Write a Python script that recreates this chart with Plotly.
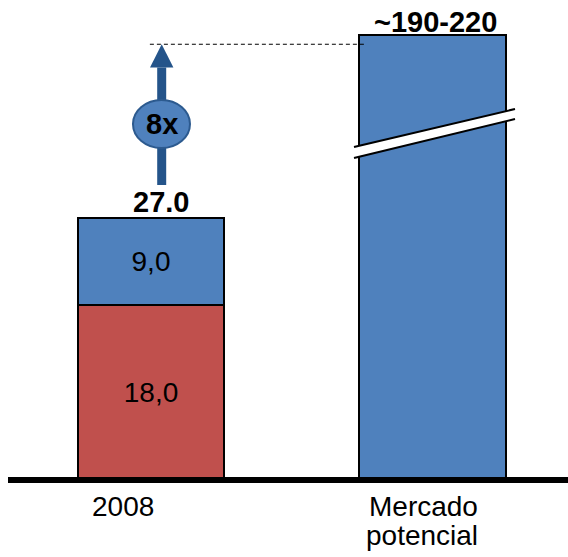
import plotly.graph_objects as go

# ---- data ----
categories = ["2008", "Mercado potencial"]
cat_label_lines = [["2008"], ["Mercado", "potencial"]]
red_segment = [18.0]          # 2008 lower segment
blue_segment = [9.0]          # 2008 upper segment
segment_labels_red = ["18,0"]
segment_labels_blue = ["9,0"]
total_2008_label = "27.0"
potential_label = "~190-220"
potential_display_height = [45.9]   # broken axis: drawn height of the potential bar
growth_label = "8x"
growth_level = 44.9                 # level of arrow tip / dashed line (broken axis)

BLUE = "#4F81BD"
RED = "#C0504D"
DARK = "#24548A"
FONT = "Liberation Sans"

x_pos = [0, 1]
bar_w = 0.519

fig = go.Figure()
fig.add_trace(go.Bar(
    x=[x_pos[0]], y=red_segment, width=bar_w, marker=dict(color=RED, line=dict(color="black", width=2)),
    text=segment_labels_red, textposition="inside", insidetextanchor="middle", textangle=0,
    textfont=dict(family=FONT, size=28, color="black"), hoverinfo="skip"))
fig.add_trace(go.Bar(
    x=[x_pos[0]], y=blue_segment, width=bar_w, marker=dict(color=BLUE, line=dict(color="black", width=2)),
    text=segment_labels_blue, textposition="inside", insidetextanchor="middle", textangle=0,
    textfont=dict(family=FONT, size=28, color="black"), hoverinfo="skip"))
fig.add_trace(go.Bar(
    x=[x_pos[1]], y=potential_display_height, width=bar_w,
    marker=dict(color=BLUE, line=dict(color="black", width=2)), hoverinfo="skip"))

total_2008 = red_segment[0] + blue_segment[0]

shapes = []
# dashed guide line
shapes.append(dict(type="line", xref="x", yref="y", x0=-0.004, x1=0.76, y0=growth_level, y1=growth_level,
                   line=dict(color="black", width=1, dash="4px,3px"), layer="above"))
# arrow shaft
ax = 0.038
shapes.append(dict(type="line", xref="x", yref="y", x0=ax, x1=ax, y0=total_2008 + 3.4, y1=growth_level - 2.4,
                   line=dict(color=DARK, width=9), layer="above"))
# arrow head
hw = 0.0415
shapes.append(dict(type="path", xref="x", yref="y",
                   path=f"M {ax-hw},{growth_level-2.4} L {ax+hw},{growth_level-2.4} L {ax},{growth_level} Z",
                   fillcolor=DARK, line=dict(width=0), layer="above"))
# ellipse
shapes.append(dict(type="circle", xref="x", yref="y", x0=-0.064, x1=0.1385, y0=34.2, y1=39.16,
                   fillcolor=BLUE, line=dict(color="#2C5A8F", width=2), layer="above"))
# axis break on potential bar
x_l, x_r = 0.7211, 1.293
shapes.append(dict(type="path", xref="x", yref="y",
                   path=f"M {x_l},34.32 L {x_r},38.23 L {x_r},37.2 L {x_l},33.18 Z",
                   fillcolor="white", line=dict(width=0), layer="above"))
shapes.append(dict(type="line", xref="x", yref="y", x0=x_l, x1=x_r, y0=34.32, y1=38.23,
                   line=dict(color="black", width=2), layer="above"))
shapes.append(dict(type="line", xref="x", yref="y", x0=x_l, x1=x_r, y0=33.18, y1=37.2,
                   line=dict(color="black", width=2), layer="above"))
# baseline (paper-referenced so it is not clipped)
shapes.append(dict(type="line", xref="paper", yref="paper", x0=8/568, x1=1, y0=0, y1=0,
                   line=dict(color="black", width=6), layer="above"))

annotations = [
    dict(x=0.0355, y=total_2008 + 1.65, text=f"<b>{total_2008_label}</b>", showarrow=False,
         font=dict(family=FONT, size=29, color="black"), xref="x", yref="y", yanchor="middle"),
    dict(x=1.009, y=47.2, text=f"<b>{potential_label}</b>", showarrow=False,
         font=dict(family=FONT, size=29, color="black"), xref="x", yref="y", yanchor="middle"),
    dict(x=ax, y=36.69, text=f"<b>{growth_label}</b>", showarrow=False,
         font=dict(family=FONT, size=29, color="black"), xref="x", yref="y", yanchor="middle"),
    dict(x=-0.1, y=-0.0556, text=cat_label_lines[0][0], showarrow=False,
         font=dict(family=FONT, size=28, color="black"), xref="x", yref="paper", yanchor="middle"),
    dict(x=0.9663, y=-0.0548, text=cat_label_lines[1][0], showarrow=False,
         font=dict(family=FONT, size=28, color="black"), xref="x", yref="paper", yanchor="middle"),
    dict(x=0.9609, y=-0.1152, text=cat_label_lines[1][1], showarrow=False,
         font=dict(family=FONT, size=28, color="black"), xref="x", yref="paper", yanchor="middle"),
]

fig.update_layout(
    width=568, height=557, margin=dict(l=0, r=0, t=0, b=77, pad=0),
    barmode="stack", showlegend=False,
    plot_bgcolor="white", paper_bgcolor="white",
    xaxis=dict(range=[-0.5364, 1.4813], visible=False, fixedrange=True),
    yaxis=dict(range=[0, 49.46], visible=False, fixedrange=True),
    shapes=shapes, annotations=annotations,
    font=dict(family=FONT),
)

fig.write_html("out.html", config={"displayModeBar": False},
               post_script="document.body.style.margin='0px';")
